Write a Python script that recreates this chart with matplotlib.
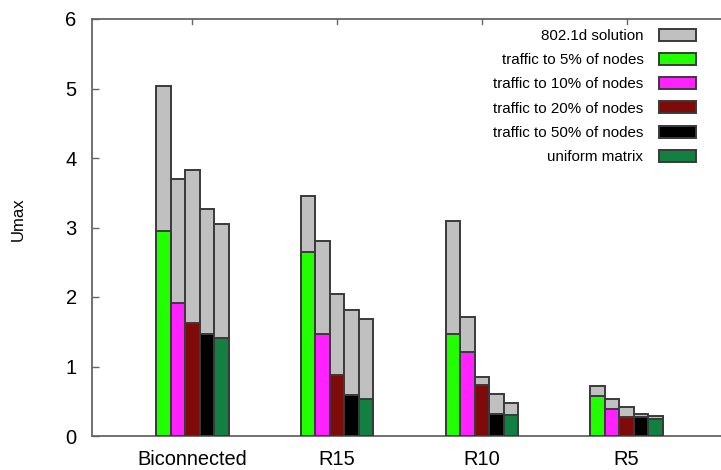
import numpy as np
import matplotlib
matplotlib.use("Agg")
import matplotlib.pyplot as plt
import matplotlib.patches as patches

plt.rcParams['font.family'] = ['Liberation Sans', 'DejaVu Sans']

topologies = ["Biconnected", "R15", "R10", "R5"]
series_labels = ["traffic to 5% of nodes", "traffic to 10% of nodes",
                 "traffic to 20% of nodes", "traffic to 50% of nodes",
                 "uniform matrix"]
series_colors = ["#22ff00", "#ff22ff", "#7f0a0a", "#000000", "#118040"]

# 802.1d solution (gray, drawn behind) for each scenario, per topology
stp_umax = [
    [5.04, 3.70, 3.83, 3.27, 3.05],
    [3.46, 2.81, 2.05, 1.81, 1.68],
    [3.09, 1.71, 0.85, 0.60, 0.48],
    [0.72, 0.53, 0.42, 0.32, 0.29],
]
# optimised values, same layout
opt_umax = [
    [2.95, 1.91, 1.62, 1.47, 1.41],
    [2.65, 1.47, 0.88, 0.59, 0.53],
    [1.47, 1.21, 0.74, 0.31, 0.30],
    [0.57, 0.39, 0.27, 0.27, 0.25],
]

gray = "#c0c0c0"
edge = "#3a3a3a"
width = 0.1

fig = plt.figure(figsize=(7.21, 4.70), dpi=100)
ax = fig.add_axes([92/721, 34/470, (721-92)/721, 417/470])

x = np.arange(1, len(topologies) + 1)
for j in range(len(series_labels)):
    pos = x + (j - 2) * width
    ax.bar(pos, [row[j] for row in stp_umax], width, color=gray,
           edgecolor=edge, linewidth=1.4, zorder=2)
    ax.bar(pos, [row[j] for row in opt_umax], width, color=series_colors[j],
           edgecolor=edge, linewidth=1.4, zorder=3)

ax.set_xlim(0.3055, 4.653)
ax.set_ylim(0, 6)
ax.set_yticks(range(7))
ax.set_xticks(x)
ax.set_xticklabels(topologies, fontsize=14.4)
ax.tick_params(axis='y', direction='in', length=5, width=1, colors='#666666',
               labelcolor='black', labelsize=14.5, pad=11)
ax.tick_params(axis='x', direction='in', length=0, pad=10, labelcolor='black',
               top=True)
ax.set_ylabel("Umax", fontsize=12)
ax.yaxis.set_label_coords(-0.106, 0.52)

for side in ['left', 'bottom', 'top']:
    ax.spines[side].set_color('#666666')
    ax.spines[side].set_linewidth(1.3)
ax.spines['right'].set_visible(False)

# short tick marks hanging from the top spine
for xi in x:
    ax.plot([xi, xi], [6, 5.93], color='#666666', lw=1, clip_on=False, zorder=1)

handles = [patches.Patch(facecolor=gray, edgecolor=edge, linewidth=1.4)]
handles += [patches.Patch(facecolor=c, edgecolor=edge, linewidth=1.4) for c in series_colors]
labels = ["802.1d solution"] + series_labels
fig.legend(handles, labels, loc='upper right', bbox_to_anchor=(704/721, 1 - 21/470),
           frameon=False, markerfirst=False, fontsize=10.9, borderpad=0,
           handlelength=2.45, handleheight=0.85, labelspacing=0.66,
           handletextpad=1.05)

fig.savefig("out.png", dpi=100)
